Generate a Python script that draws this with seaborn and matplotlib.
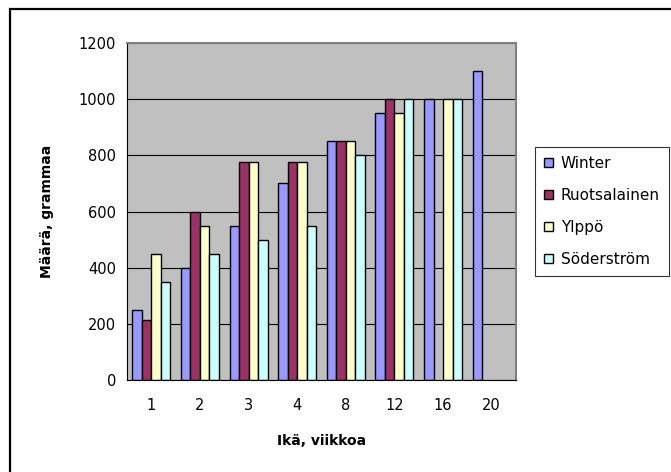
import numpy as np
import pandas as pd
import matplotlib
matplotlib.use("Agg")
import matplotlib.pyplot as plt
import matplotlib.patches as mpatches
import seaborn as sns

weeks = ["1", "2", "3", "4", "8", "12", "16", "20"]
series = ["Winter", "Ruotsalainen", "Ylppö", "Söderström"]
winter = [250, 400, 550, 700, 850, 950, 1000, 1100]
ruotsalainen = [215, 600, 775, 775, 850, 1000, np.nan, np.nan]
ylppo = [450, 550, 775, 775, 850, 950, 1000, np.nan]
soderstrom = [350, 450, 500, 550, 800, 1000, 1000, np.nan]
colors = ["#9999FF", "#993366", "#FFFFCC", "#CCFFFF"]

rows = []
for name, vals in zip(series, [winter, ruotsalainen, ylppo, soderstrom]):
    for w, v in zip(weeks, vals):
        rows.append({"week": w, "series": name, "value": v})
df = pd.DataFrame(rows)

sns.set_style("white")
plt.rcParams['font.family'] = ['DejaVu Sans']
plt.rcParams['text.color'] = 'black'
plt.rcParams['axes.labelcolor'] = 'black'
plt.rcParams['xtick.color'] = 'black'
plt.rcParams['ytick.color'] = 'black'

fig = plt.figure(figsize=(6.71, 4.72), dpi=100)
ax = fig.add_axes([127/671, 1-380/472, (516-127)/671, (380-43)/472])
ax.set_facecolor("#C0C0C0")

sns.barplot(data=df, x="week", y="value", hue="series", order=weeks, hue_order=series,
            palette=colors, width=0.78, edgecolor="black", linewidth=1.0,
            errorbar=None, legend=False, ax=ax, saturation=1)

ax.set_ylim(0, 1200)
ax.set_yticks(range(0, 1201, 200))
ax.set_xlim(-0.5, len(weeks) - 0.5)
ax.yaxis.grid(True, color="black", linewidth=0.8)
ax.set_axisbelow(True)

# ticks between categories like the spreadsheet look
ax.set_xticks(np.arange(-0.5, len(weeks), 1.0), minor=True)
ax.tick_params(axis="x", which="major", length=0, labelsize=10.5, pad=13, labelcolor="black")
ax.tick_params(axis="x", which="minor", length=5, width=0.8, direction="out", color="black")
ax.tick_params(axis="y", length=5, width=0.8, direction="out", color="black", labelsize=10.5,
               pad=3, labelcolor="black")

for s in ["top", "right"]:
    ax.spines[s].set_color("#808080")
    ax.spines[s].set_linewidth(1.5)
for s in ["left", "bottom"]:
    ax.spines[s].set_color("black")
    ax.spines[s].set_linewidth(0.8)

ax.set_xlabel("Ikä, viikkoa", fontsize=10, fontweight="bold", labelpad=15, color="black")
ax.set_ylabel("Määrä, grammaa", fontsize=10, fontweight="bold", labelpad=18, color="black")

handles = [mpatches.Patch(facecolor=c, edgecolor="black", linewidth=1.0, label=n)
           for c, n in zip(colors, series)]
leg = fig.legend(handles=handles, loc="upper left", bbox_to_anchor=(535/671, 1-147/472),
                 fontsize=11, frameon=True, fancybox=False, handlelength=0.55, handleheight=0.55,
                 handletextpad=0.55, borderpad=0.6, labelspacing=1.1, borderaxespad=0,
                 labelcolor="black")
leg.get_frame().set_edgecolor("black")
leg.get_frame().set_linewidth(0.8)

# outer chart border, cut off at the right and bottom
border = mpatches.Rectangle((10/671, -0.5), 2.0, 1-9/472+0.5, transform=fig.transFigure,
                            fill=False, edgecolor="black", linewidth=1.6, clip_on=False)
fig.patches.append(border)

fig.savefig("out.png", dpi=100)
